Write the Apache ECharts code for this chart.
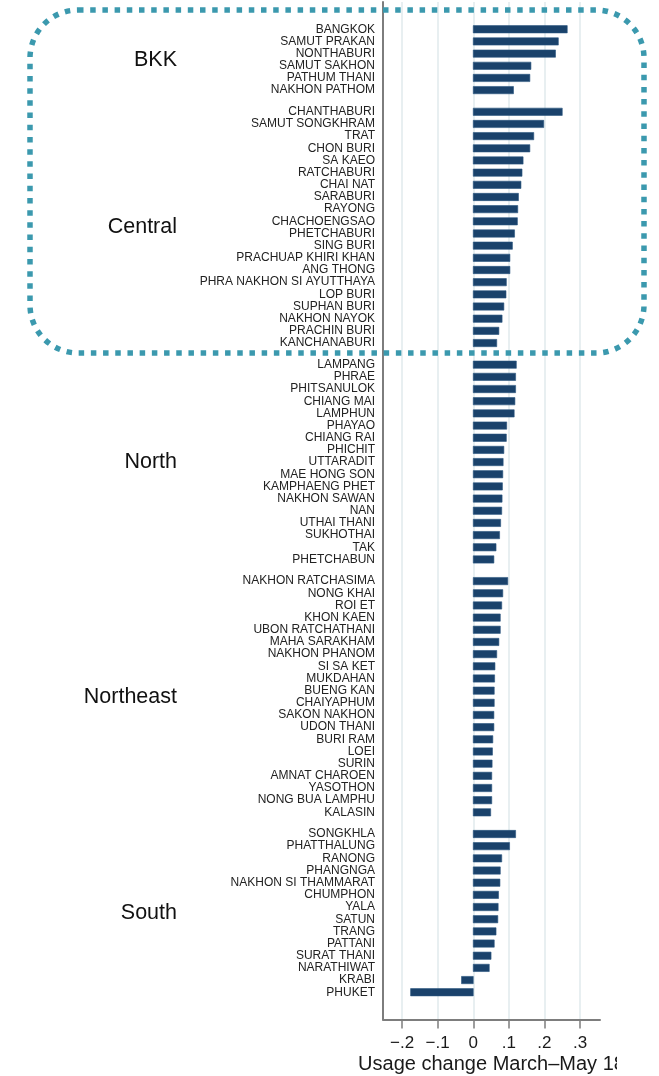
<!DOCTYPE html>
<html>
<head>
<meta charset="utf-8">
<script src="https://cdn.jsdelivr.net/npm/echarts@6/dist/echarts.min.js"></script>
<style>
  html, body { margin: 0; padding: 0; background: #fff; }
  #chart { width: 659px; height: 1076px; }
</style>
</head>
<body>
<div id="chart"></div>
<script>
// Regions, in display order
const regions = ['BKK', 'Central', 'North', 'Northeast', 'South'];

// Provinces and usage change per region
const bkkNames = ['BANGKOK', 'SAMUT PRAKAN', 'NONTHABURI', 'SAMUT SAKHON', 'PATHUM THANI', 'NAKHON PATHOM'];
const bkkValues = [0.264, 0.239, 0.231, 0.162, 0.159, 0.113];

const centralNames = ['CHANTHABURI', 'SAMUT SONGKHRAM', 'TRAT', 'CHON BURI', 'SA KAEO', 'RATCHABURI',
  'CHAI NAT', 'SARABURI', 'RAYONG', 'CHACHOENGSAO', 'PHETCHABURI', 'SING BURI', 'PRACHUAP KHIRI KHAN',
  'ANG THONG', 'PHRA NAKHON SI AYUTTHAYA', 'LOP BURI', 'SUPHAN BURI', 'NAKHON NAYOK', 'PRACHIN BURI',
  'KANCHANABURI'];
const centralValues = [0.250, 0.198, 0.170, 0.159, 0.140, 0.137, 0.134, 0.127, 0.125, 0.124, 0.116,
  0.110, 0.103, 0.103, 0.093, 0.092, 0.086, 0.081, 0.072, 0.066];

const northNames = ['LAMPANG', 'PHRAE', 'PHITSANULOK', 'CHIANG MAI', 'LAMPHUN', 'PHAYAO', 'CHIANG RAI',
  'PHICHIT', 'UTTARADIT', 'MAE HONG SON', 'KAMPHAENG PHET', 'NAKHON SAWAN', 'NAN', 'UTHAI THANI',
  'SUKHOTHAI', 'TAK', 'PHETCHABUN'];
const northValues = [0.121, 0.119, 0.119, 0.117, 0.115, 0.094, 0.093, 0.086, 0.084, 0.083, 0.082,
  0.081, 0.080, 0.077, 0.074, 0.064, 0.058];

const northeastNames = ['NAKHON RATCHASIMA', 'NONG KHAI', 'ROI ET', 'KHON KAEN', 'UBON RATCHATHANI',
  'MAHA SARAKHAM', 'NAKHON PHANOM', 'SI SA KET', 'MUKDAHAN', 'BUENG KAN', 'CHAIYAPHUM', 'SAKON NAKHON',
  'UDON THANI', 'BURI RAM', 'LOEI', 'SURIN', 'AMNAT CHAROEN', 'YASOTHON', 'NONG BUA LAMPHU', 'KALASIN'];
const northeastValues = [0.097, 0.083, 0.080, 0.076, 0.076, 0.072, 0.066, 0.061, 0.060, 0.059, 0.059,
  0.058, 0.058, 0.055, 0.054, 0.053, 0.052, 0.052, 0.052, 0.049];

const southNames = ['SONGKHLA', 'PHATTHALUNG', 'RANONG', 'PHANGNGA', 'NAKHON SI THAMMARAT', 'CHUMPHON',
  'YALA', 'SATUN', 'TRANG', 'PATTANI', 'SURAT THANI', 'NARATHIWAT', 'KRABI', 'PHUKET'];
const southValues = [0.119, 0.102, 0.080, 0.076, 0.075, 0.071, 0.070, 0.069, 0.064, 0.059, 0.050,
  0.045, -0.033, -0.176];

// Tick values on the usage-change axis
const xTicks = [-0.2, -0.1, 0, 0.1, 0.2, 0.3];
const axisTitle = 'Usage change March\u2013May 18';

// ---- Build row positions: one unit per province, an extra gap between regions ----
const groupNames = [bkkNames, centralNames, northNames, northeastNames, southNames];
const groupValues = [bkkValues, centralValues, northValues, northeastValues, southValues];
const GROUP_GAP = 0.78;

const rows = [];          // [value, position]
const rowLabel = {};      // position -> province name
const regionCenters = []; // position of each region label
const regionLabel = {};
let idx = 0;
groupNames.forEach((names, g) => {
  const first = idx + g * GROUP_GAP;
  names.forEach((name, i) => {
    const pos = +(idx + g * GROUP_GAP).toFixed(2);
    rows.push([groupValues[g][i], pos]);
    rowLabel[pos.toFixed(2)] = name;
    idx++;
  });
  const last = idx - 1 + g * GROUP_GAP;
  const c = +((first + last) / 2).toFixed(2);
  regionCenters.push(c);
  regionLabel[c.toFixed(2)] = regions[g];
});
const yMin = -2.24;
const yMax = +(rows[rows.length - 1][1] + 2.24).toFixed(2);

const BAR_COLOR = '#1a426b';
const AXIS_COLOR = '#7d7d7d';
const FONT = '"Liberation Sans", Arial, Helvetica, sans-serif';

function fmtTick(v) {
  if (Math.abs(v) < 1e-9) return '0';
  const s = Math.abs(v).toFixed(1).replace(/^0/, '');
  return (v < 0 ? '\u2212' : '') + s;
}

function renderBar(params, api) {
  const v = api.value(0);
  const p = api.value(1);
  const a = api.coord([0, p]);
  const b = api.coord([v, p]);
  const h = api.size([0, 1])[1] * 0.6;
  return {
    type: 'rect',
    shape: { x: Math.min(a[0], b[0]), y: a[1] - h / 2, width: Math.abs(b[0] - a[0]), height: h },
    style: { fill: BAR_COLOR, stroke: '#2a5580', lineWidth: 0.6 }
  };
}

const chart = echarts.init(document.getElementById('chart'), null, { renderer: 'canvas' });
chart.setOption({
  animation: false,
  backgroundColor: '#fff',
  textStyle: { fontFamily: FONT },
  grid: { left: 383, right: 59, top: 2, bottom: 56.5, containLabel: false, outerBoundsMode: 'none' },
  xAxis: {
    type: 'value',
    min: -0.2535,
    max: 0.356,
    axisLine: { show: true, onZero: false, lineStyle: { color: AXIS_COLOR, width: 2 } },
    axisTick: { show: true, customValues: xTicks, length: 9, lineStyle: { color: AXIS_COLOR, width: 1.5 } },
    axisLabel: {
      customValues: xTicks, formatter: fmtTick, margin: 15,
      fontSize: 17, color: '#1a1a1a', fontFamily: FONT
    },
    splitLine: { show: true, customValues: xTicks, lineStyle: { color: '#e0eaed', width: 1.5 } },
    name: axisTitle,
    nameLocation: 'middle',
    nameGap: 35,
    nameMoveOverlap: false,
    nameTextStyle: { fontSize: 20, color: '#1a1a1a', fontFamily: FONT }
  },
  yAxis: [
    {
      type: 'value',
      inverse: true,
      min: yMin,
      max: yMax,
      axisLine: { show: true, onZero: false, lineStyle: { color: AXIS_COLOR, width: 2 } },
      axisTick: { show: false },
      splitLine: { show: false },
      axisLabel: {
        customValues: rows.map(r => r[1]),
        formatter: v => rowLabel[(+v).toFixed(2)] || '',
        margin: 8, fontSize: 12, color: '#222', fontFamily: FONT,
        padding: [2, 0, 0, 0]
      }
    },
    {
      type: 'value',
      position: 'left',
      inverse: true,
      min: yMin,
      max: yMax,
      axisLine: { show: false, onZero: false },
      axisTick: { show: false },
      splitLine: { show: false },
      axisLabel: {
        customValues: regionCenters,
        formatter: v => regionLabel[(+v).toFixed(2)] || '',
        margin: 206, fontSize: 21.5, color: '#111', fontFamily: FONT,
        padding: [4, 0, 0, 0]
      }
    }
  ],
  series: [{
    type: 'custom',
    name: 'Usage change',
    renderItem: renderBar,
    encode: { x: 0, y: 1 },
    data: rows,
    xAxisIndex: 0,
    yAxisIndex: 0,
    z: 3
  }],
  graphic: [
    {
      // right edge of the canvas is blank beyond the plot
      type: 'rect', z: 100,
      shape: { x: 617, y: 1030, width: 42, height: 46 },
      style: { fill: '#fff' }
    },
    {
      // dotted frame around the BKK and Central regions
      type: 'rect', z: 101,
      shape: { x: 30, y: 10, width: 614, height: 343, r: 48 },
      style: { fill: 'none', stroke: '#3b99ae', lineWidth: 5.5, lineDash: [5.5, 6.7] }
    }
  ]
});
</script>
</body>
</html>
